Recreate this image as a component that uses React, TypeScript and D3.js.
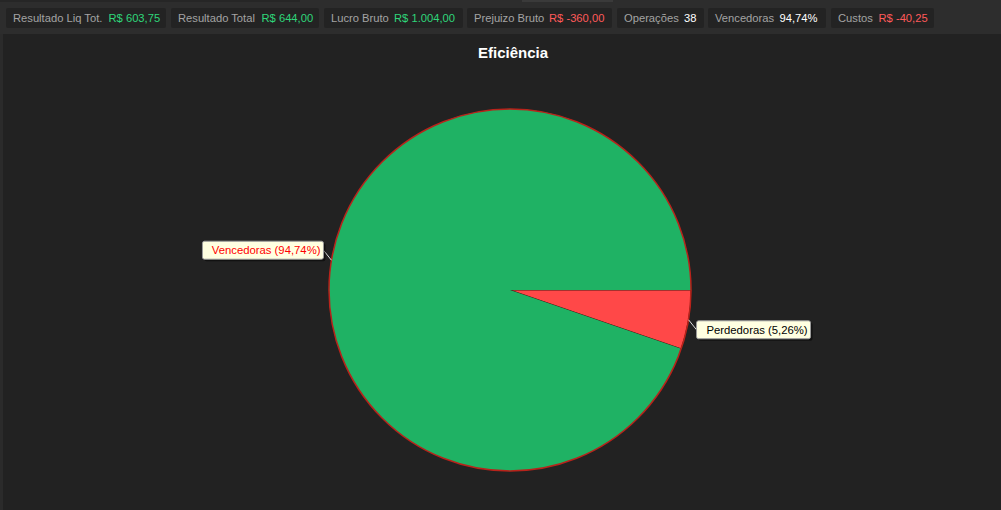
import React from "react";
import * as d3 from "d3";

const statLabels = ["Resultado Liq Tot.", "Resultado Total", "Lucro Bruto", "Prejuizo Bruto", "Operações", "Vencedoras", "Custos"];
const statValues = ["R$ 603,75", "R$ 644,00", "R$ 1.004,00", "R$ -360,00", "38", "94,74%", "R$ -40,25"];
const statColors = ["#2fd67a", "#2fd67a", "#2fd67a", "#ff5a5a", "#ffffff", "#ffffff", "#ff5a5a"];
const pillStarts = [6, 171, 324, 467, 617, 708, 831];
const pillEnds = [166, 319, 463, 612, 704, 826, 934];
const valueStarts = [108.5, 261.5, 394, 549, 684, 779.5, 878.5];

const sliceNames = ["Perdedoras", "Vencedoras"];
const sliceCounts = [2, 36];
const slicePct = ["5,26%", "94,74%"];
const sliceColors = ["#ff4848", "#1fb264"];
const labelTextColors = ["#000000", "#ff0000"];

const W = 1001, H = 510;
const cx = 510, cy = 290, R = 181;

export default function App() {
  const pie = d3.pie<number>().sort(null).startAngle(Math.PI / 2).endAngle(Math.PI / 2 + 2 * Math.PI);
  const arcs = pie(sliceCounts);
  const arcGen = d3.arc<d3.PieArcDatum<number>>().innerRadius(0).outerRadius(R);
  const font = "'Liberation Sans', Arial, sans-serif";
  return (
    <svg width={W} height={H} style={{ position: "absolute", left: 0, top: 0, display: "block" }}>
      <rect x={0} y={0} width={W} height={H} fill="#222222" />
      <rect x={0} y={0} width={W} height={34} fill="#2d2d2d" />
      <rect x={0} y={0} width={300} height={2} fill="#262626" />
      <rect x={522} y={0} width={91} height={2} fill="#3a3a3a" />
      <rect x={0} y={34} width={3} height={H - 34} fill="#2b2b2b" />
      {statLabels.map((l, i) => (
        <g key={l}>
          <rect x={pillStarts[i]} y={8} width={pillEnds[i] - pillStarts[i]} height={20} rx={2} fill="#232323" />
          <text x={pillStarts[i] + 7} y={22} fill="#a4a4a4" fontSize={11.2} fontFamily={font}>{l}</text>
          <text x={valueStarts[i]} y={22} fill={statColors[i]} fontSize={11.2} fontFamily={font}>{statValues[i]}</text>
        </g>
      ))}
      <text x={513} y={58} fill="#ffffff" fontSize={15} fontWeight="bold" fontFamily={font} textAnchor="middle">Eficiência</text>
      <g transform={`translate(${cx},${cy})`}>
        {arcs.map((a, i) => (
          <path key={i} d={arcGen(a) || ""} fill={sliceColors[i]} stroke={i === 0 ? "#4a1a14" : "none"} strokeWidth={1} />
        ))}
        <circle r={R} fill="none" stroke="#b8231b" strokeWidth={1.5} />
      </g>
      {arcs.map((a, i) => {
        const mid = (a.startAngle + a.endAngle) / 2;
        const ax = cx + Math.sin(mid) * R;
        const ay = cy - Math.cos(mid) * R;
        const right = Math.sin(mid) > 0;
        const ly = ay + (ay > cy ? 10 : -10);
        const text = `${sliceNames[i]} (${slicePct[i]})`;
        const bw = right ? 114 : 121;
        const bh = 18;
        const bx = right ? ax + 8 : ax - 8 - bw;
        const by = ly - bh / 2;
        return (
          <g key={i}>
            <line x1={ax} y1={ay} x2={right ? bx : bx + bw} y2={ly} stroke="#dddddd" strokeWidth={1} />
            <rect x={bx + 2} y={by + 2} width={bw} height={bh} rx={2} fill="#000000" opacity={0.5} />
            <rect x={bx} y={by} width={bw} height={bh} rx={2} fill="#ffffe1" stroke="#9a9a9a" strokeWidth={1} />
            <text x={bx + bw - 3} y={by + 13} fill={labelTextColors[i]} fontSize={11.3} fontFamily={font} textAnchor="end">{text}</text>
          </g>
        );
      })}
    </svg>
  );
}
